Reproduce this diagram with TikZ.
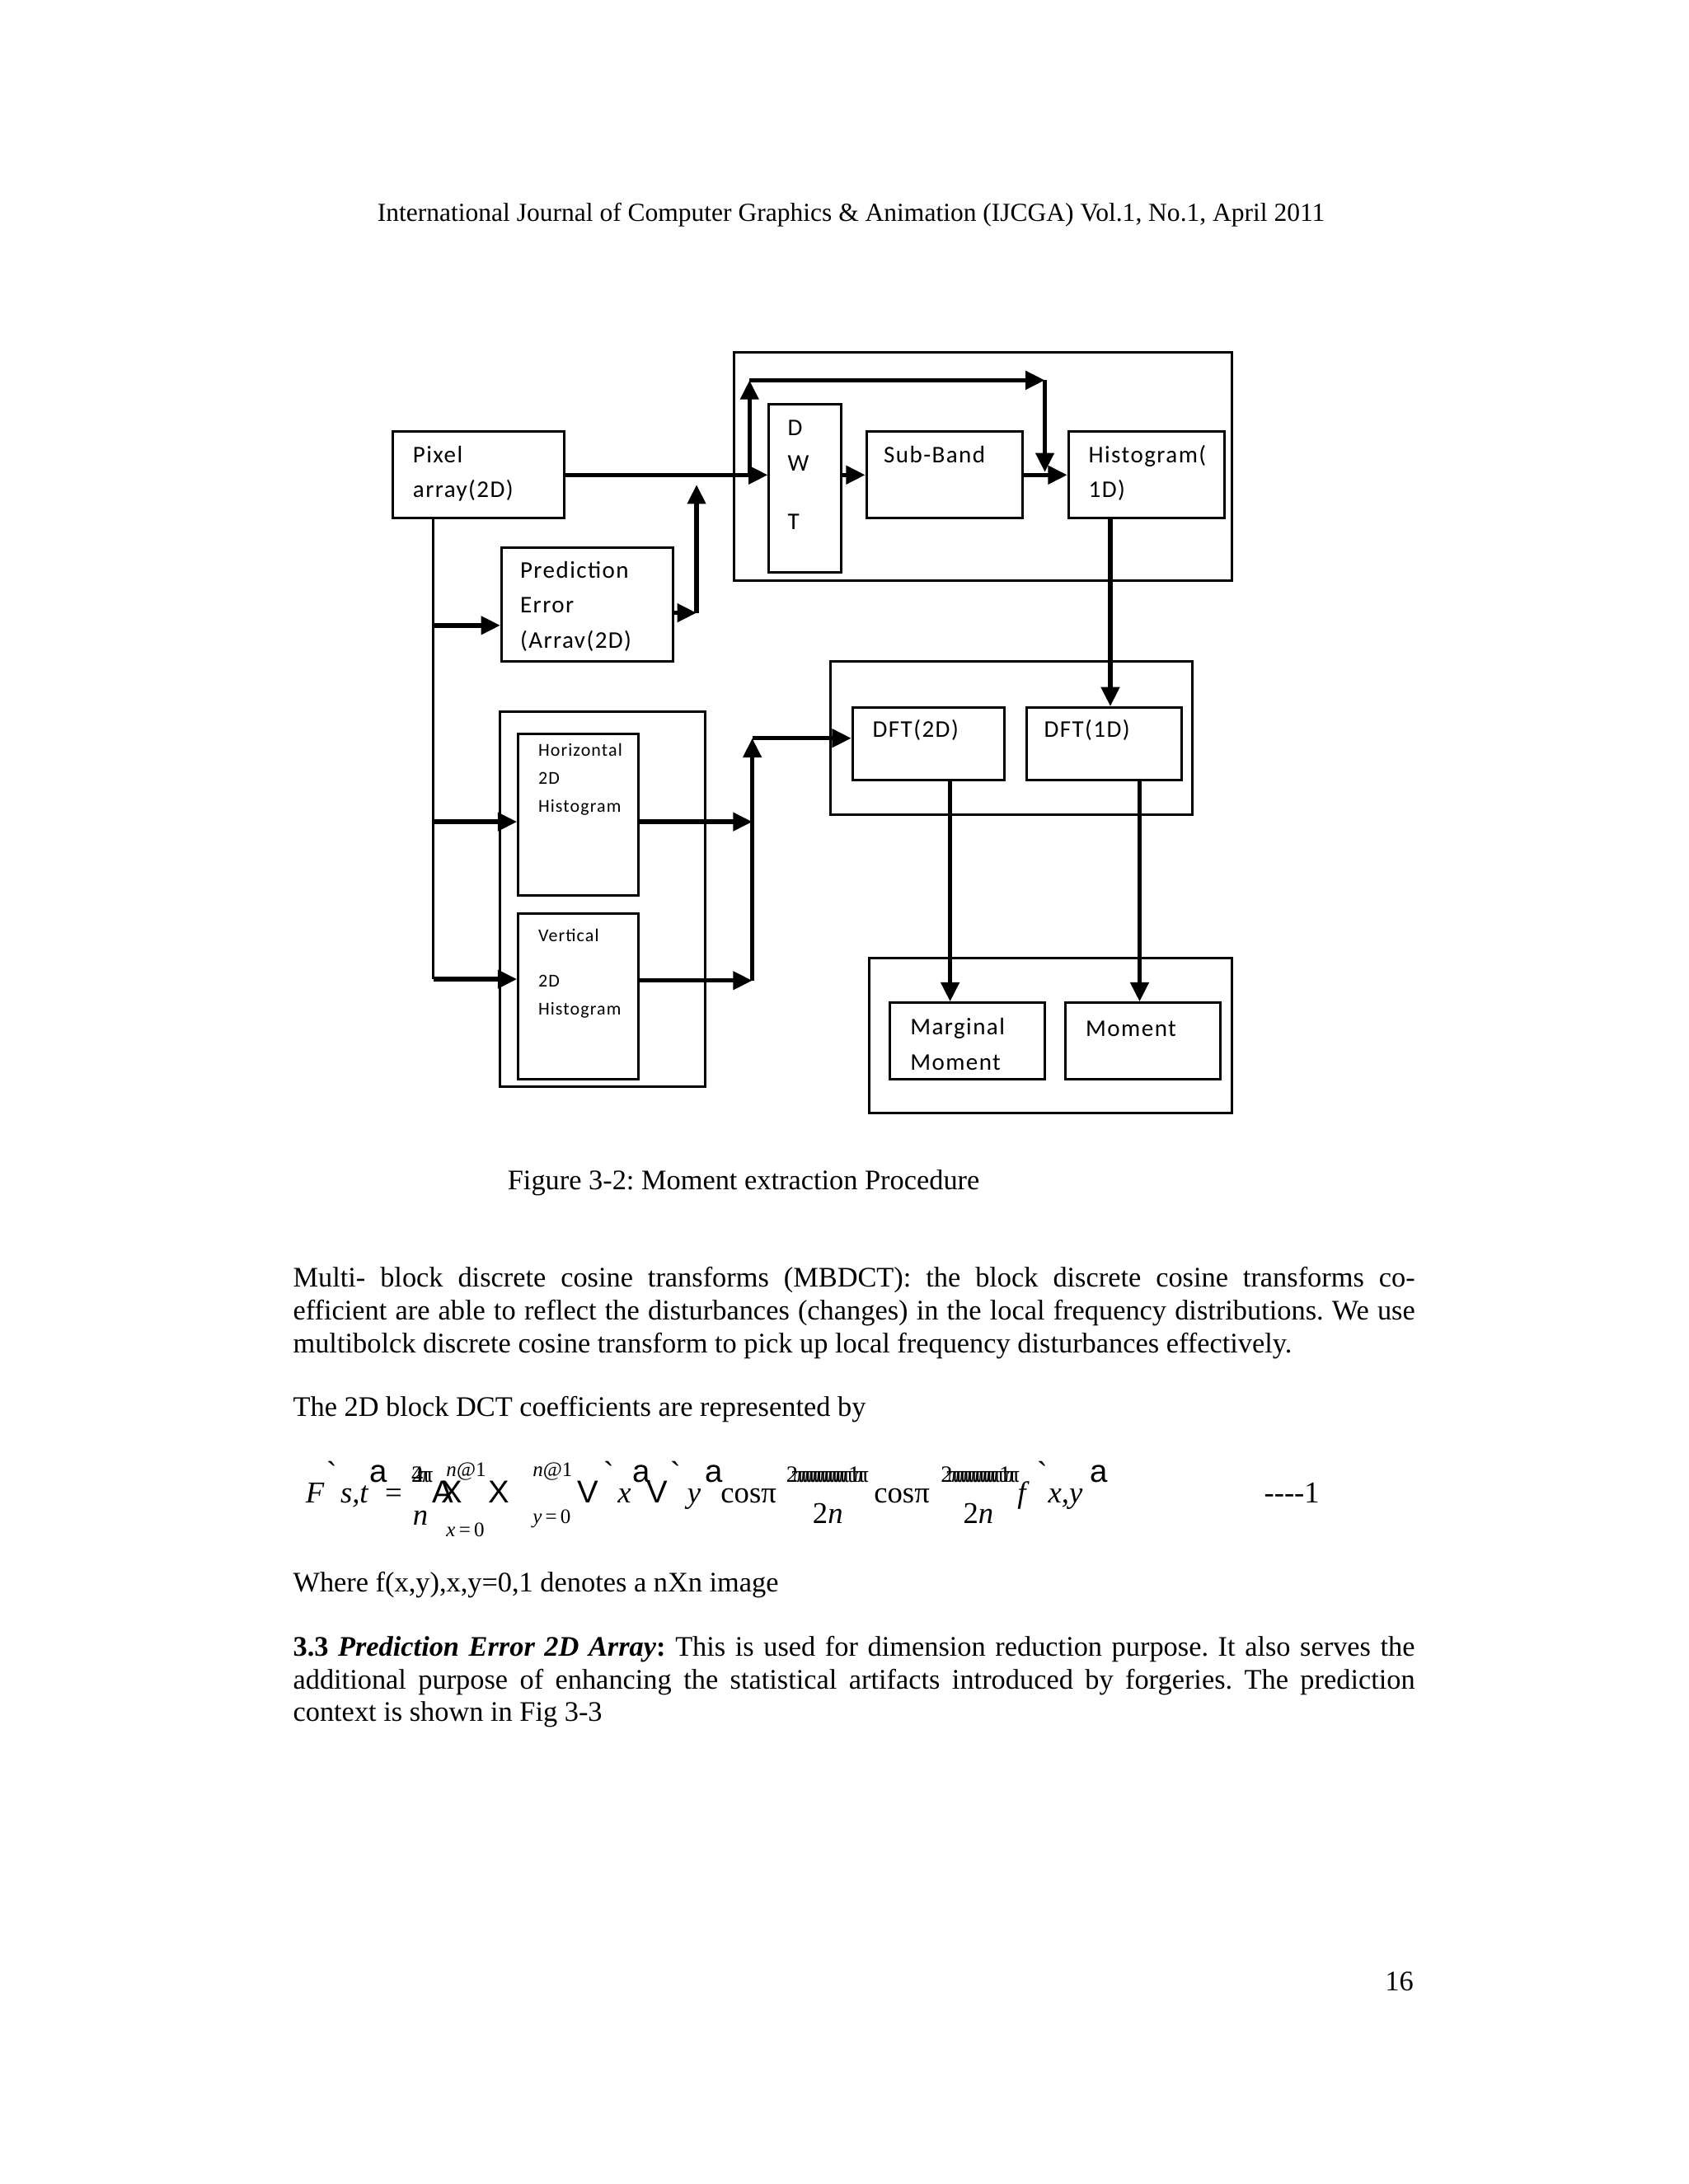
\documentclass[tikz,border=0pt]{standalone}
\usepackage{fontspec}
\setmainfont{Liberation Serif}
\newfontfamily\dgmfont[LetterSpace=5]{Carlito}
\newfontfamily\eqsans{Liberation Sans}
\usetikzlibrary{arrows.meta,positioning,fit}
\newlength{\pxu}\setlength{\pxu}{0.017814cm}
\newlength{\colw}\setlength{\colw}{14.340cm}
\newcommand{\bodyfont}{\fontsize{10.3pt}{11.9pt}\selectfont\frenchspacing}
% one justified line of the column
\newcommand{\jline}[1]{\hbox to \colw{\spaceskip=0.25em plus 1em minus 0.1em\relax #1}}
% overprinted glyph run of the broken equation
\newcommand{\garble}[1]{2\kern-2.2pt\foreach \k in {1,...,#1}{π\kern-2.9pt}\kern1pt 1\kern-2.5ptπ\kern-2.9ptπ}

\tikzset{
  blk/.style={draw, line width=0.9pt, inner sep=0pt, fit={#1}},
  lbl/.style={font=\dgmfont\fontsize{8.7}{12.7}\selectfont, inner sep=0pt, anchor=base west, text width=#1, align=left},
  slbl/.style={font=\dgmfont\fontsize{6.6}{10.1}\selectfont, inner sep=0pt, anchor=base west, text width=#1, align=left},
  arr/.style={line width=1.6pt, -{Triangle[length=7pt,width=6.5pt]}},
  trunk/.style={line width=0.8pt},
  body/.style={font=\bodyfont, inner sep=0pt, anchor=base west},
  eq/.style={inner sep=0pt, anchor=base west},
  ei/.style={eq, font=\fontsize{11}{13}\selectfont\itshape},
  er/.style={eq, font=\fontsize{11}{13}\selectfont},
  es/.style={eq, font=\eqsans\fontsize{11.5}{13}\selectfont},
  esm/.style={eq, font=\fontsize{7.5}{9}\selectfont},
  egb/.style={eq, font=\fontsize{8.5}{10}\selectfont},
}

\begin{document}
\begin{tikzpicture}[x=0.017814cm, y=-0.017814cm]
\fill[white] (0,0) rectangle (1212,1568);
\useasboundingbox (0,0) rectangle (1212,1568);

% running head
\node[body, anchor=base, font=\fontsize{9.45pt}{11pt}\selectfont] (head) at (611,159) {International Journal of Computer Graphics \& Animation (IJCGA) Vol.1, No.1, April 2011};

% ---- figure 3-2: blocks
\node[blk={(282,310) (405,372)}] (pixel) {};
\node[blk={(360,393) (483,475)}] (pred) {};
\node[blk={(527,253) (884,417)}] (dwtgrp) {};
\node[blk={(552,290) (604,411)}] (dwt) {};
\node[blk={(622,310) (734,372)}] (subband) {};
\node[blk={(767,310) (879,372)}] (hist) {};
\node[blk={(359,511) (506,780)}] (histgrp) {};
\node[blk={(372,527) (458,643)}] (hhist) {};
\node[blk={(372,656) (458,775)}] (vhist) {};
\node[blk={(596,475) (856,585)}] (dftgrp) {};
\node[blk={(612,508) (721,560)}] (dfta) {};
\node[blk={(737,508) (848,560)}] (dftb) {};
\node[blk={(624,688) (884,799)}] (momgrp) {};
\node[blk={(639,720) (750,775)}] (marg) {};
\node[blk={(765,720) (876,775)}] (mom) {};

% block texts
\node[lbl=100\pxu] (pixeltx) at (296,332) {Pixel\\array(2D)};
\node[lbl=100\pxu] (predtx) at (373,415) {Prediction\\Error\\(Arrav(2D)};
\node[lbl=30\pxu] (dwttx) at (565,313) {D\\W\\[8.5pt]T};
\node[lbl=100\pxu] (subbandtx) at (634,332) {Sub-Band};
\node[lbl=100\pxu] (histtx) at (781,332) {Histogram(\\1D)};
\node[lbl=100\pxu] (dftatx) at (626,529) {DFT(2D)};
\node[lbl=100\pxu] (dftbtx) at (749,529) {DFT(1D)};
\node[slbl=80\pxu] (hhisttx) at (386,543) {Horizontal\\2D\\Histogram};
\node[slbl=80\pxu] (vhisttx) at (386,676) {Vertical\\[6.5pt]2D\\Histogram};
\node[lbl=100\pxu] (margtx) at (653,743) {Marginal\\Moment};
\node[lbl=100\pxu] (momtx) at (779,744) {Moment};

% ---- connectors
\coordinate (tk) at (311,0);
\coordinate (tkp) at (311,449);
\coordinate (tkh) at (311,590);
\coordinate (tkv) at (311,703);
\draw[trunk] (tk |- pixel.south) -- (tkv);
\draw[arr] (tkp) -- (tkp -| pred.west);
\draw[arr] (tkh) -- (tkh -| hhist.west);
\draw[arr] (tkv) -- (tkv -| vhist.west);

\draw[arr] (pixel.east) -- (pixel.east -| dwt.west);
\draw[arr] (pixel.east -| dwt.east) -- (subband.west);
\draw[arr] (subband.east) -- (hist.west);

\coordinate (po) at (500,440);
\coordinate (pj) at (500,348);
\draw[arr] (po -| pred.east) -- (po);
\draw[arr] (po) -- (pj);

\coordinate (lpa) at (538,341);
\coordinate (lpb) at (538,273);
\coordinate (lpc) at (750,273);
\coordinate (lpd) at (750,339);
\draw[arr] (lpa) -- (lpb);
\draw[arr] (lpb) -- (lpc);
\draw[arr] (lpc) -- (lpd);

\coordinate (hd) at (797,0);
\draw[arr] (hd |- hist.south) -- (hd |- dftb.north);

\coordinate (ha) at (540,590);
\coordinate (va) at (540,704);
\coordinate (ct) at (540,530);
\draw[arr] (ha -| hhist.east) -- (ha);
\draw[arr] (va -| vhist.east) -- (va);
\draw[arr] (va) -- (ct);
\draw[arr] (ct) -- (ct -| dfta.west);

\coordinate (ma) at (682,0);
\coordinate (mb) at (818,0);
\draw[arr] (ma |- dfta.south) -- (ma |- marg.north);
\draw[arr] (mb |- dftb.south) -- (mb |- mom.north);

% ---- caption and text
\node[body] (cap) at (364,854) {Figure 3-2: Moment extraction Procedure};
\node[body] (para1a) at (210,924) {\jline{Multi- block discrete cosine transforms (MBDCT): the block discrete cosine transforms co-}};
\node[body] (para1b) at (210,947.5) {\jline{efficient are able to reflect the disturbances (changes) in the local frequency distributions. We use}};
\node[body] (para1c) at (210,971) {multibolck discrete cosine transform to pick up local frequency disturbances effectively.};
\node[body] (para2) at (210,1017) {The 2D block DCT coefficients are represented by};

% equation as printed (broken glyphs)
\node[ei] (eqF) at (219,1079) {F};
\node[ei] (eqst) at (244,1079) {s,t};
\node[er] (eqeq) at (276,1079) {=};
\node[egb] (eqg0) at (295,1064) {\rlap{4}2\kern-2pt π\kern-3pt π};
\node[esm] (eqt1) at (320,1060) {\textit{n}@1};
\node[es] (eqAX) at (310,1079) {A\kern-4.5pt X};
\node[ei] (eqn) at (296,1095) {n};
\node[esm] (eqb1) at (320,1103) {\textit{x}\,=\,0};
\node[es] (eqX) at (350,1079) {X};
\node[esm] (eqt2) at (382,1060) {\textit{n}@1};
\node[esm] (eqb2) at (382,1094) {\textit{y}\,=\,0};
\node[es] (eqV1) at (414,1079) {V};
\node[ei] (eqx) at (443,1079) {x};
\node[es] (eqV2) at (464,1079) {V};
\node[ei] (eqy) at (493,1079) {y};
\node[er] (eqcos1) at (517,1079) {cosπ};
\node[egb] (eqg1) at (564,1064) {\garble{14}};
\node[er] (eqd1) at (583,1094) {2\textit{n}};
\node[er] (eqcos2) at (627,1079) {cosπ};
\node[egb] (eqg2) at (675,1064) {\garble{13}};
\node[er] (eqd2) at (691,1094) {2\textit{n}};
\node[ei] (eqf) at (730,1079) {f};
\node[ei] (eqxy) at (752,1079) {x,y};
\node[er] (eqnum) at (907,1079) {{-}{-}{-}{-}1};
\foreach \x/\n in {234/1, 433/2, 481/3, 744/4}
  {\node[es] (grv\n) at (\x,1066) {\textasciigrave};}
\foreach \x/\n in {265/1, 454/2, 506/3, 782/4}
  {\node[es] (sa\n) at (\x,1064) {a};}

\node[body] (para3) at (210,1143) {Where f(x,y),x,y=0,1 denotes a nXn image};
\node[body] (para4a) at (210,1189) {\jline{\textbf{3.3 \textit{Prediction Error 2D Array}:} This is used for dimension reduction purpose. It also serves the}};
\node[body] (para4b) at (210,1212.5) {\jline{additional purpose of enhancing the statistical artifacts introduced by forgeries. The prediction}};
\node[body] (para4c) at (210,1236) {context is shown in Fig 3-3};

\node[body, anchor=base east] (pgno) at (1015,1429) {16};
\end{tikzpicture}
\end{document}
